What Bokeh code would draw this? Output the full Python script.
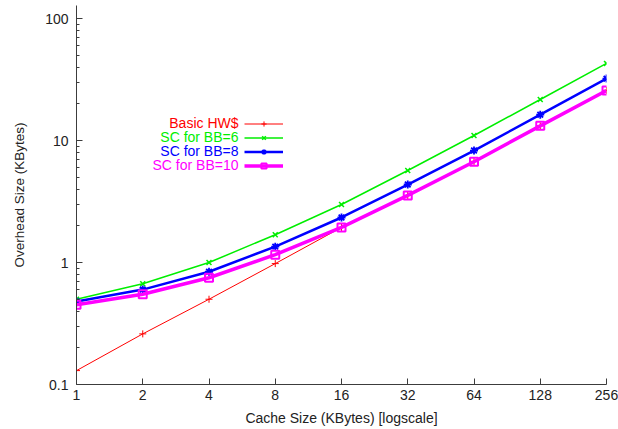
from bokeh.plotting import figure
from bokeh.models import FixedTicker, Legend, LegendItem, Label, Range1d
from bokeh.embed import file_html
from bokeh.resources import INLINE

# ---- data ----
cache_kb = [1, 2, 4, 8, 16, 32, 64, 128, 256]
basic_hw = [0.13, 0.26, 0.50, 0.98, 1.94, 3.55, 6.75, 13.2, 25.8]
sc_bb6 = [0.50, 0.67, 1.00, 1.69, 2.99, 5.68, 11.0, 21.7, 42.9]
sc_bb8 = [0.48, 0.60, 0.84, 1.35, 2.34, 4.36, 8.28, 16.3, 32.2]
sc_bb10 = [0.45, 0.55, 0.75, 1.16, 1.94, 3.55, 6.70, 13.2, 25.7]
series_names = ["Basic HW$", "SC for BB=6", "SC for BB=8", "SC for BB=10"]
x_ticks = [1, 2, 4, 8, 16, 32, 64, 128, 256]
y_ticks = [0.1, 1, 10, 100]
y_minor = [0.2, 0.3, 0.4, 0.5, 0.6, 0.7, 0.8, 0.9,
           2, 3, 4, 5, 6, 7, 8, 9,
           20, 30, 40, 50, 60, 70, 80, 90]

FONT = "Liberation Sans"
AXIS_COLOR = "#3c3c3c"

p = figure(width=618, height=429, x_axis_type="log", y_axis_type="log",
           x_range=Range1d(1, 256), y_range=Range1d(0.1, 128),
           output_backend="svg", toolbar_location=None,
           min_border_left=76, min_border_right=12,
           min_border_top=5, min_border_bottom=45)
p.outline_line_color = None
p.xgrid.visible = False
p.ygrid.visible = False
p.background_fill_color = "white"
p.border_fill_color = "white"

for ax in (p.xaxis[0], p.yaxis[0]):
    ax.axis_line_color = AXIS_COLOR
    ax.axis_line_width = 1
    ax.major_tick_line_color = AXIS_COLOR
    ax.minor_tick_line_color = AXIS_COLOR
    ax.major_tick_in = 6
    ax.major_tick_out = 0
    ax.minor_tick_in = 3
    ax.minor_tick_out = 0
    ax.major_label_text_font = FONT
    ax.major_label_text_font_size = "14px"
    ax.major_label_text_color = "#222222"
    ax.axis_label_text_font = FONT
    ax.axis_label_text_font_style = "normal"
    ax.axis_label_text_color = "#222222"

p.xaxis.axis_label_text_font_size = "14px"
p.yaxis.axis_label_text_font_size = "13.5px"
p.xaxis.ticker = FixedTicker(ticks=x_ticks, minor_ticks=[])
p.xaxis.major_label_overrides = {t: str(t) for t in x_ticks}
p.yaxis.ticker = FixedTicker(ticks=y_ticks, minor_ticks=y_minor)
p.yaxis.major_label_overrides = {0.1: "0.1", 1: "1", 10: "10", 100: "100"}
p.xaxis.axis_label = "Cache Size (KBytes) [logscale]"
p.yaxis.axis_label = "Overhead Size (KBytes)"
p.xaxis.major_label_standoff = 5
p.yaxis.major_label_standoff = 8
p.xaxis.axis_label_standoff = 7
p.yaxis.axis_label_standoff = 15

styles = [
    (basic_hw, "#ff0000", 1.0, "cross", 7, 1.0),
    (sc_bb6, "#00ee00", 1.5, "x", 7, 1.5),
    (sc_bb8, "#0000ff", 2.5, "asterisk", 8, 1.8),
    (sc_bb10, "#ff00ff", 3.5, "square", 8, 2.0),
]

items = []
for name, (ys, color, lw, marker, msize, mlw) in zip(series_names, styles):
    r1 = p.line(cache_kb, ys, line_color=color, line_width=lw)
    r2 = p.scatter(cache_kb, ys, marker=marker, size=msize, line_color=color,
                   fill_color=None, line_width=mlw)
    items.append(LegendItem(label=" ", renderers=[r1, r2]))

legend = Legend(items=items, location=(168, 212), orientation="vertical",
                glyph_width=39, glyph_height=13, label_height=13, label_width=0,
                label_standoff=0, spacing=1, padding=0, margin=0,
                border_line_alpha=0, background_fill_alpha=0,
                label_text_font_size="1px")
p.add_layout(legend)

label_colors = ["#ff0000", "#00ee00", "#0000ff", "#ff00ff"]
for i, (name, c) in enumerate(zip(series_names, label_colors)):
    p.add_layout(Label(x=162, y=262 - i * 14, x_units="screen", y_units="screen",
                       text=name, text_align="right", text_baseline="middle",
                       text_font=FONT, text_font_size="14px", text_color=c))

open("out.html", "w").write(file_html(p, INLINE))
